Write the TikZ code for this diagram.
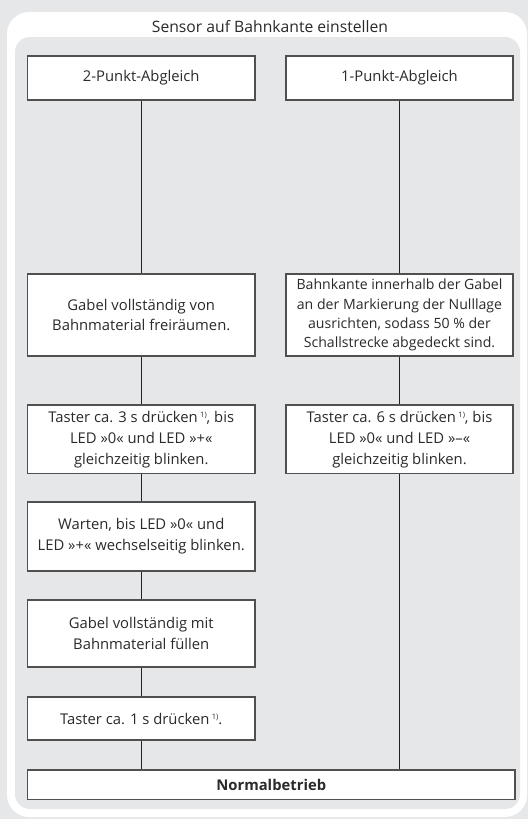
\documentclass[tikz,border=0pt]{standalone}
\usepackage{fontspec}
\setmainfont{Open Sans}
\definecolor{bggray}{HTML}{E6E7E8}
\definecolor{boxline}{HTML}{505050}
\definecolor{conline}{HTML}{222222}
\definecolor{txt}{HTML}{2A2A2A}
\newcommand{\fn}{\,\raisebox{5pt}{\fontsize{7.5}{7.5}\selectfont 1)}}
\tikzset{
  stepbox/.style={draw=boxline, fill=white, line width=1.1pt, align=center, inner sep=0pt,
    font=\fontsize{14.8}{20.9}\selectfont, text=txt},
  conn/.style={draw=conline, line width=0.9pt},
}
\begin{document}
\begin{tikzpicture}[x=1pt,y=-1pt]
\useasboundingbox (0,0) rectangle (528,819);
\fill[bggray] (0,0) rectangle (528,819);
\fill[white, rounded corners=22pt] (7,12) rectangle (527,817);
\fill[bggray, rounded corners=15pt] (15,37) rectangle (520,809);
\node[font=\fontsize{15.7}{18}\selectfont, text=txt] (title) at (270,26.5) {Sensor auf Bahnkante einstellen};
% left column
\node[stepbox, minimum width=227.5pt, minimum height=44pt] (l1) at (141.25,78) {2-Punkt-Abgleich};
\node[stepbox, minimum width=227.5pt, minimum height=82pt] (l2) at (141.25,315) {Gabel vollständig von\\Bahnmaterial freiräumen.};
\node[stepbox, minimum width=227.5pt, minimum height=68.5pt] (l3) at (141.25,439.25) {Taster ca. 3 s drücken\fn, bis\\LED »0« und LED »+«\\gleichzeitig blinken.};
\node[stepbox, minimum width=227.5pt, minimum height=69pt] (l4) at (141.25,536.5) {Warten, bis LED »0« und\\LED »+« wechselseitig blinken.};
\node[stepbox, minimum width=227.5pt, minimum height=67pt] (l5) at (141.25,633.5) {Gabel vollständig mit\\Bahnmaterial füllen};
\node[stepbox, minimum width=227.5pt, minimum height=43pt] (l6) at (141.25,718.5) {Taster ca. 1 s drücken\fn.};
% right column
\node[stepbox, minimum width=227pt, minimum height=44pt] (r1) at (399.5,78) {1-Punkt-Abgleich};
\node[stepbox, minimum width=227pt, minimum height=82pt, font=\fontsize{14.1}{19.2}\selectfont] (r2) at (399.5,315) {Bahnkante innerhalb der Gabel\\an der Markierung der Nulllage\\ausrichten, sodass 50 \% der\\Schallstrecke abgedeckt sind.};
\node[stepbox, minimum width=227pt, minimum height=68.5pt] (r3) at (399.5,439.25) {Taster ca. 6 s drücken\fn, bis\\LED »0« und LED »–«\\gleichzeitig blinken.};
% bottom
\node[stepbox, minimum width=487.5pt, minimum height=29.5pt, font=\fontsize{14.8}{17}\selectfont\bfseries] (nb) at (271.25,784.75) {Normalbetrieb};
% connectors
\draw[conn] (l1.south) -- (l2.north);
\draw[conn] (l2.south) -- (l3.north);
\draw[conn] (l3.south) -- (l4.north);
\draw[conn] (l4.south) -- (l5.north);
\draw[conn] (l5.south) -- (l6.north);
\draw[conn] (l6.south) -- (nb.north -| l6.south);
\draw[conn] (r1.south) -- (r2.north);
\draw[conn] (r2.south) -- (r3.north);
\draw[conn] (r3.south) -- (nb.north -| r3.south);
\end{tikzpicture}
\end{document}
